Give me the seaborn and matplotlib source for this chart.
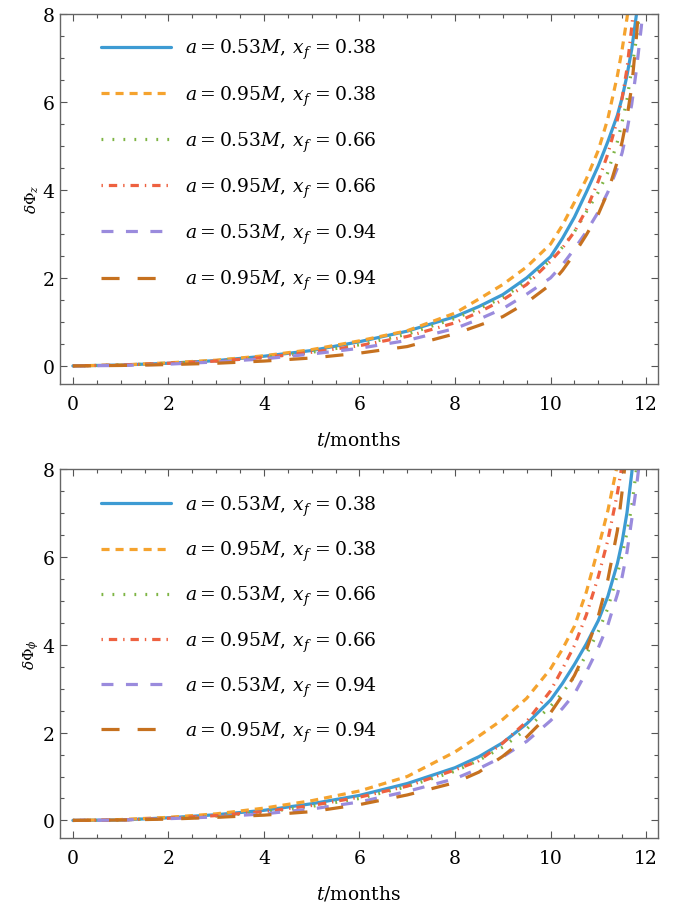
import numpy as np
import pandas as pd
import matplotlib
matplotlib.use("Agg")
import matplotlib.pyplot as plt
import seaborn as sns
from matplotlib.ticker import MultipleLocator

# ---------------- data ----------------
spin = ["0.53", "0.95", "0.53", "0.95", "0.53", "0.95"]
x_f = ["0.38", "0.38", "0.66", "0.66", "0.94", "0.94"]
t_months = [0, 1, 2, 3, 4, 5, 6, 7, 8, 8.5, 9, 9.5, 10, 10.25, 10.5, 10.75,
            11, 11.2, 11.4, 11.5, 11.6, 11.7, 11.8, 11.9, 12]

# delta Phi_z (top panel)
dphiz_053_038 = [0, 0.02, 0.06, 0.12, 0.22, 0.35, 0.55, 0.79, 1.12, 1.35, 1.62, 2.0, 2.48, 2.9, 3.38, 3.95,
                 4.55, 5.1, 5.7, 6.1, 6.6, 7.2, 8.0, 9.0, 10.2]
dphiz_095_038 = [0, 0.02, 0.07, 0.13, 0.23, 0.37, 0.57, 0.8, 1.2, 1.52, 1.85, 2.25, 2.77, 3.2, 3.72, 4.25,
                 4.9, 5.62, 6.6, 7.2, 7.9, 8.7, 9.6, 10.6, 11.7]
dphiz_053_066 = [0, 0.02, 0.06, 0.11, 0.19, 0.31, 0.48, 0.72, 1.08, 1.3, 1.55, 1.92, 2.4, 2.7, 3.05, 3.5,
                 3.95, 4.4, 5.1, 5.55, 6.05, 6.75, 7.45, 8.4, 9.6]
dphiz_095_066 = [0, 0.02, 0.06, 0.11, 0.19, 0.31, 0.46, 0.67, 0.98, 1.22, 1.5, 1.85, 2.38, 2.68, 3.05, 3.55,
                 4.2, 4.82, 5.6, 6.1, 6.75, 7.7, 8.8, 10.0, 11.5]
dphiz_053_094 = [0, 0.01, 0.04, 0.09, 0.16, 0.27, 0.40, 0.58, 0.85, 1.06, 1.3, 1.63, 2.0, 2.3, 2.66, 3.05,
                 3.5, 3.95, 4.5, 4.85, 5.35, 5.95, 6.75, 7.7, 8.9]
dphiz_095_094 = [0, 0.01, 0.03, 0.06, 0.11, 0.18, 0.29, 0.44, 0.73, 0.92, 1.12, 1.44, 1.85, 2.17, 2.55, 2.98,
                 3.45, 3.95, 4.65, 5.1, 5.65, 6.35, 7.5, 8.9, 10.5]

# delta Phi_phi (bottom panel)
dphip_053_038 = [0, 0.01, 0.06, 0.13, 0.23, 0.38, 0.57, 0.84, 1.2, 1.45, 1.77, 2.2, 2.74, 3.12, 3.55, 4.02,
                 4.55, 5.1, 5.85, 6.35, 7.0, 7.9, 9.0, 10.4, 12.0]
dphip_095_038 = [0, 0.02, 0.07, 0.15, 0.28, 0.45, 0.67, 1.0, 1.56, 1.92, 2.3, 2.78, 3.45, 3.9, 4.42, 5.2,
                 6.2, 7.05, 8.1, 8.8, 9.7, 10.7, 12.0, 13.5, 15.0]
dphip_053_066 = [0, 0.01, 0.05, 0.10, 0.19, 0.32, 0.50, 0.77, 1.12, 1.37, 1.67, 2.08, 2.6, 2.9, 3.28, 3.78,
                 4.3, 4.83, 5.6, 6.05, 6.55, 7.15, 8.0, 9.0, 10.3]
dphip_095_066 = [0, 0.01, 0.05, 0.11, 0.20, 0.34, 0.53, 0.78, 1.15, 1.36, 1.76, 2.25, 2.95, 3.45, 3.98, 4.68,
                 5.55, 6.38, 7.45, 8.1, 8.9, 9.8, 10.8, 12.0, 13.5]
dphip_053_094 = [0, 0.01, 0.04, 0.08, 0.15, 0.26, 0.42, 0.66, 0.95, 1.18, 1.45, 1.8, 2.27, 2.55, 2.88, 3.38,
                 3.93, 4.45, 5.15, 5.55, 6.1, 6.85, 7.6, 8.5, 9.6]
dphip_095_094 = [0, 0.01, 0.03, 0.07, 0.12, 0.20, 0.36, 0.58, 0.86, 1.1, 1.46, 1.9, 2.45, 2.85, 3.3, 3.88,
                 4.65, 5.48, 6.6, 7.5, 8.5, 9.6, 10.8, 12.2, 14.0]

top_series = [dphiz_053_038, dphiz_095_038, dphiz_053_066, dphiz_095_066, dphiz_053_094, dphiz_095_094]
bot_series = [dphip_053_038, dphip_095_038, dphip_053_066, dphip_095_066, dphip_053_094, dphip_095_094]

labels = [rf"$a = {a}M,\, x_f\, = {x}$" for a, x in zip(spin, x_f)]

# ---------------- styles ----------------
colors = ["#3D9BD3", "#F5A32E", "#7DB443", "#EE6140", "#9A8BDD", "#C6711F"]
dash_list = ["", (5.8, 4.3), (1.3, 6.6), (1.0, 4.3, 6.0, 4.3), (8.6, 9.0), (13.0, 13.0)]
palette = dict(zip(labels, colors))
dashes = dict(zip(labels, dash_list))

sns.set_theme(style="ticks")
plt.rcParams.update({
    "font.family": ["DejaVu Serif"],
    "mathtext.fontset": "dejavuserif",
    "lines.scale_dashes": False,
    "axes.edgecolor": "#666666",
    "axes.linewidth": 1.0,
    "text.color": "black",
    "axes.labelcolor": "black",
})

fig = plt.figure(figsize=(6.73, 9.04), dpi=100)
ax1 = fig.add_axes([60 / 673, 1 - 384.5 / 904, 598 / 673, 369.5 / 904])
ax2 = fig.add_axes([60 / 673, 1 - 839 / 904, 598 / 673, 369 / 904])


def draw(ax, series, ylabel, leg_top, spacing):
    df = pd.DataFrame({
        "t": np.tile(t_months, len(series)),
        "v": np.concatenate(series),
        "label": np.repeat(labels, len(t_months)),
    })
    sns.lineplot(data=df, x="t", y="v", hue="label", style="label",
                 palette=palette, dashes=dashes, hue_order=labels, style_order=labels,
                 estimator=None, sort=False, linewidth=2.3, ax=ax, legend=False)
    ax.set_xlim(-0.27, 12.25)
    ax.set_ylim(-0.4, 8)
    ax.xaxis.set_major_locator(MultipleLocator(2))
    ax.xaxis.set_minor_locator(MultipleLocator(0.5))
    ax.yaxis.set_major_locator(MultipleLocator(2))
    ax.yaxis.set_minor_locator(MultipleLocator(0.5))
    ax.tick_params(which="both", direction="in", top=True, right=True,
                   color="#555555", width=0.8, labelsize=13.5, labelcolor="black")
    ax.tick_params(which="major", length=5)
    ax.tick_params(which="minor", length=3)
    ax.tick_params(axis="x", pad=8)
    ax.tick_params(axis="y", pad=4)
    ax.set_xlabel(r"$t$/months", fontsize=13.5, labelpad=12)
    ax.set_ylabel(ylabel, fontsize=11, labelpad=1)
    ax.legend(handles=ax.lines[:6], labels=labels, loc="upper left",
              bbox_to_anchor=(0.0686, leg_top), frameon=False, fontsize=13.5,
              handlelength=3.75, handletextpad=0.75, labelspacing=spacing,
              borderpad=0, borderaxespad=0)
    for spine in ax.spines.values():
        spine.set_color("#666666")


draw(ax1, top_series, r"$\delta\Phi_z$", 0.937, 1.17)
draw(ax2, bot_series, r"$\delta\Phi_\phi$", 0.933, 1.12)

fig.savefig("out.png", dpi=100)
